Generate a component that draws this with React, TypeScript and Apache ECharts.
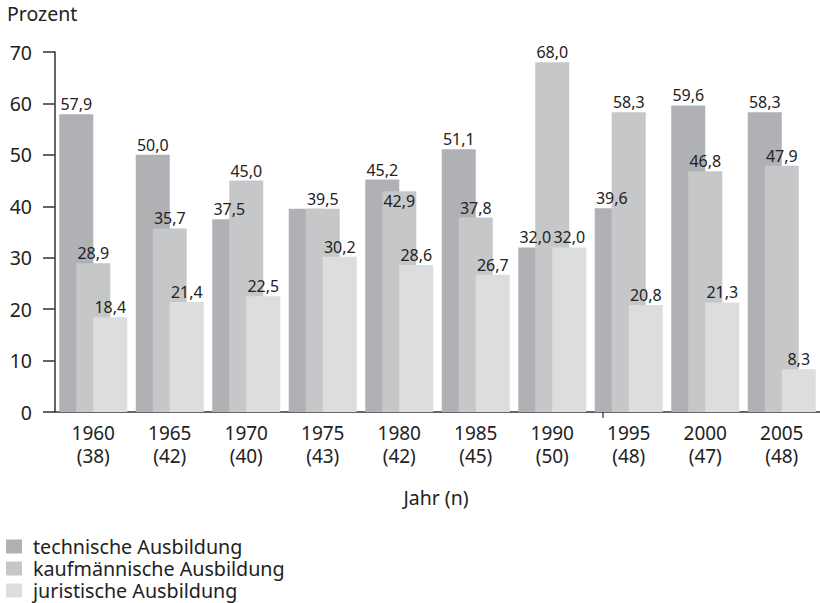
import React, { useEffect, useRef } from "react";
import * as echarts from "echarts";

const years = ["1960", "1965", "1970", "1975", "1980", "1985", "1990", "1995", "2000", "2005"];
const counts = ["38", "42", "40", "43", "42", "45", "50", "48", "47", "48"];
const technische = [57.9, 50.0, 37.5, 39.5, 45.2, 51.1, 32.0, 39.6, 59.6, 58.3];
const kaufmaennische = [28.9, 35.7, 45.0, 39.5, 42.9, 37.8, 68.0, 58.3, 46.8, 47.9];
const juristische = [18.4, 21.4, 22.5, 30.2, 28.6, 26.7, 32.0, 20.8, 21.3, 8.3];
const seriesNames = ["technische Ausbildung", "kaufmännische Ausbildung", "juristische Ausbildung"];
const colors = ["#b0b1b4", "#c6c7c9", "#dcdddf"];
const hiddenLabels: Record<number, number[]> = { 0: [3] };
const insideLabels: Record<number, number[]> = { 1: [4] };

const FONT = "Noto Sans";
const FS = 19.5;

export default function App() {
  const ref = useRef<HTMLDivElement>(null);
  useEffect(() => {
    if (!ref.current) return;
    const chart = echarts.init(ref.current, null, { renderer: "svg" });
    const all = [technische, kaufmaennische, juristische];
    const legendTops = [536, 558, 580];
    chart.setOption({
      animation: false,
      textStyle: { fontFamily: FONT, color: "#222" },
      grid: { left: 55, top: 52, width: 774, height: 360, containLabel: false },
      legend: seriesNames.map((n, i) => ({
        orient: "vertical",
        left: 6,
        top: legendTops[i],
        padding: 0,
        itemWidth: 16,
        itemHeight: 14,
        icon: "rect",
        data: [n],
        textStyle: { fontFamily: FONT, fontSize: 19.7, lineHeight: 21, color: "#222", padding: [0, 0, 0, 6] },
      })),
      graphic: [
        { type: "text", left: 7, top: 3, style: { text: "Prozent", font: `${FS}px "${FONT}"`, fill: "#222" } },
        { type: "text", x: 436, y: 497, style: { text: "Jahr (n)", font: `${FS}px "${FONT}"`, fill: "#222", align: "center", verticalAlign: "middle" } },
        { type: "line", shape: { x1: 603, y1: 412, x2: 603, y2: 418 }, style: { stroke: "#555", lineWidth: 1.5 } },
      ],
      xAxis: {
        type: "category",
        data: years.map((y, i) => `${y}\n(${counts[i]})`),
        axisLine: { show: true, lineStyle: { color: "#333", width: 1.5 } },
        axisTick: { show: false },
        axisLabel: { fontFamily: FONT, fontSize: 19, color: "#222", lineHeight: 22.5, margin: 10, interval: 0 },
      },
      yAxis: {
        type: "value",
        min: 0,
        max: 70,
        interval: 10,
        splitLine: { show: false },
        axisLine: { show: true, lineStyle: { color: "#333", width: 1.5 } },
        axisTick: { show: true, length: 12, lineStyle: { color: "#333", width: 1.5 } },
        axisLabel: { fontFamily: FONT, fontSize: FS, color: "#222", margin: 23 },
      },
      series: all.map((vals, si) => ({
        name: seriesNames[si],
        type: "bar",
        barWidth: 34,
        barGap: "-50%",
        itemStyle: { color: colors[si] },
        label: {
          show: true,
          position: "top",
          distance: 2,
          fontFamily: FONT,
          fontSize: 16,
          color: "#222",
          formatter: (p: any) => p.value.toFixed(1).replace(".", ","),
        },
        data: vals.map((v, i) => {
          if ((hiddenLabels[si] || []).includes(i)) return { value: v, label: { show: false } };
          if ((insideLabels[si] || []).includes(i)) return { value: v, label: { position: "insideTop", distance: 2 } };
          return v;
        }),
      })),
    });
    return () => chart.dispose();
  }, []);
  return <div ref={ref} style={{ width: 820, height: 603, position: "absolute", left: 0, top: 0 }} />;
}
